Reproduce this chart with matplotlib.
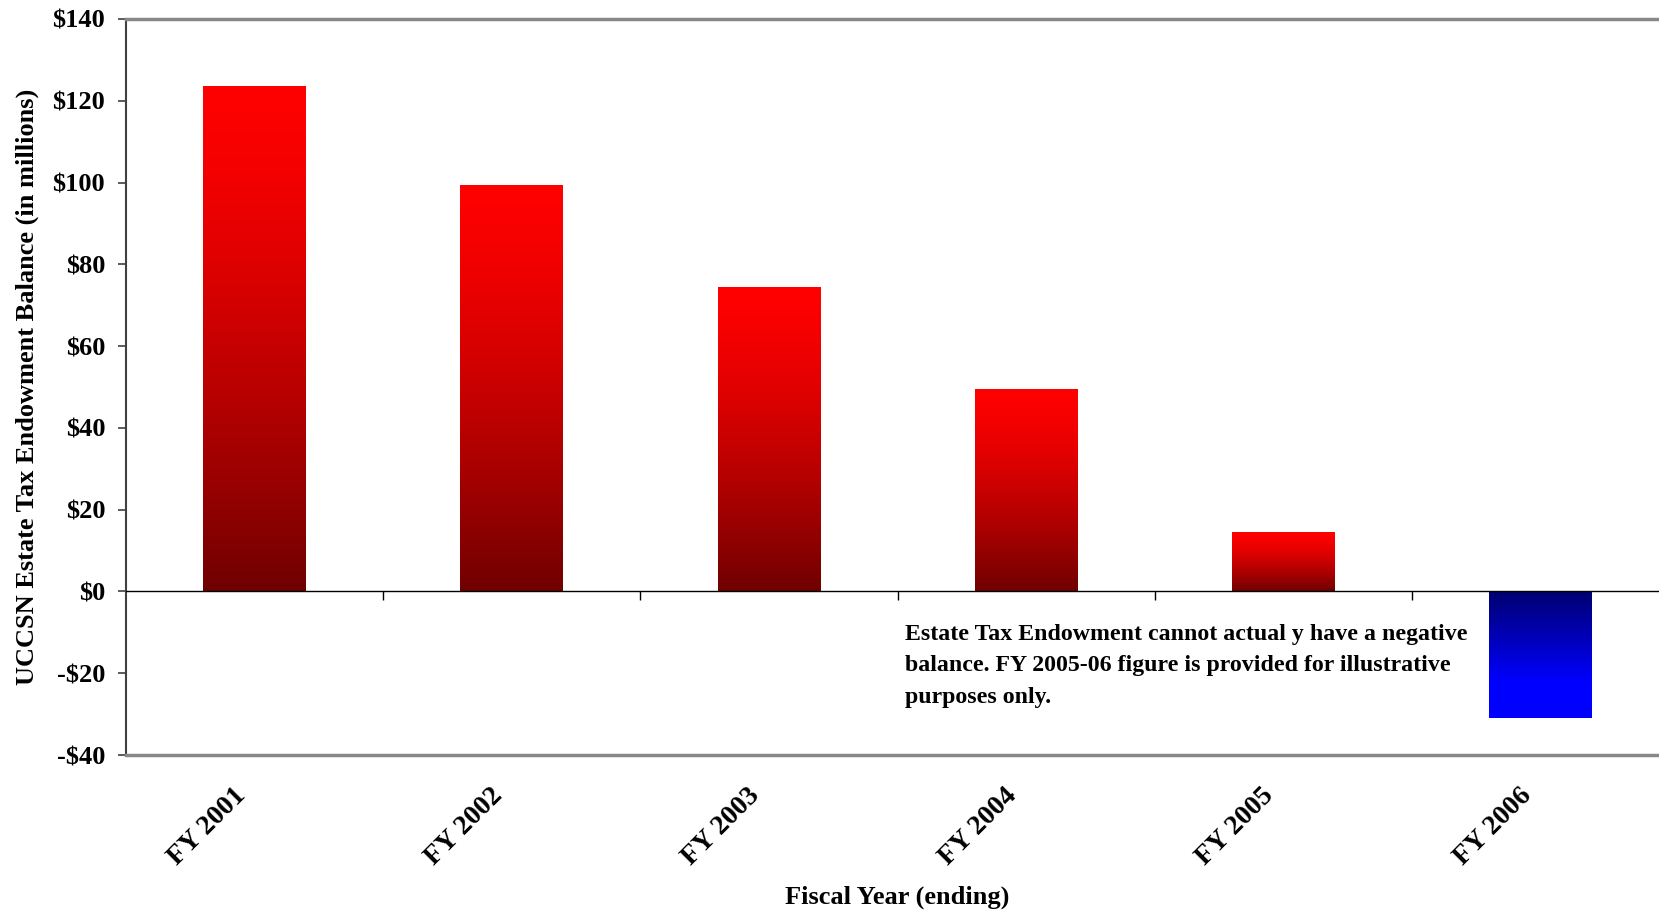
import numpy as np
import matplotlib.pyplot as plt
import matplotlib.transforms as mtransforms

# data
years = ['FY 2001', 'FY 2002', 'FY 2003', 'FY 2004', 'FY 2005', 'FY 2006']
balance = [123.5, 99.1, 74.2, 49.4, 14.2, -30.9]
yticks = [-40, -20, 0, 20, 40, 60, 80, 100, 120, 140]
note = ('Estate Tax Endowment cannot actual y have a negative\n'
        'balance. FY 2005-06 figure is provided for illustrative\n'
        'purposes only.')

plt.rcParams['font.family'] = ['Liberation Serif', 'DejaVu Serif']
plt.rcParams['font.weight'] = 'bold'

fig = plt.figure(figsize=(16.59, 9.13), dpi=100)
ax = fig.add_axes([126 / 1659, 1 - 755 / 913, 1 - 126 / 1659, (755 - 19) / 913])

x = np.arange(len(years))
bars = ax.bar(x, balance, width=0.40, color='none', edgecolor='none')


def red_grad(n=256):
    t = np.linspace(0, 1, n)  # 0 = top
    r = 1 - 0.56 * t ** 1.4
    return np.stack([r, np.zeros(n), np.zeros(n)], axis=1)[:, None, :]


def blue_grad(n=256):
    t = np.linspace(0, 1, n)  # 0 = top (zero line)
    b = 0.44 + 0.56 * np.clip(t / 0.72, 0, 1)
    return np.stack([np.zeros(n), np.zeros(n), b], axis=1)[:, None, :]


for b, v in zip(bars, balance):
    x0 = b.get_x()
    x1 = x0 + b.get_width()
    if v >= 0:
        img = red_grad()
        ext = (x0, x1, 0, v)
    else:
        img = blue_grad()
        ext = (x0, x1, v, 0)
    ax.imshow(img, extent=ext, origin='upper', aspect='auto',
              interpolation='bilinear', zorder=2)

ax.set_xlim(-0.5, 5.46)
ax.set_ylim(-40, 140)

# zero line with category dividers
ax.axhline(0, color='black', lw=1.0, zorder=3)
ax.vlines(np.arange(len(years) - 1) + 0.5, -2.0, 0, color='black', lw=1.0, zorder=3)

ax.set_yticks(yticks)
ax.set_yticklabels(['-$%d' % -v if v < 0 else '$%d' % v for v in yticks], fontsize=19)
ax.tick_params(axis='y', direction='out', length=6, width=1.2, color='#404040', pad=9)

ax.set_xticks(x)
ax.set_xticklabels(years, fontsize=20, rotation=45, ha='right', rotation_mode='anchor')
ax.tick_params(axis='x', length=0, pad=20)
shift = mtransforms.ScaledTranslation(-22 / 100, 0, fig.dpi_scale_trans)
for lbl in ax.get_xticklabels():
    lbl.set_transform(lbl.get_transform() + shift)

ax.spines['right'].set_visible(False)
ax.spines['left'].set_color('#404040')
ax.spines['left'].set_linewidth(1.5)
ax.spines['top'].set_color('#888888')
ax.spines['top'].set_linewidth(2.5)
ax.spines['bottom'].set_color('#888888')
ax.spines['bottom'].set_linewidth(2.5)

ax.set_ylabel('UCCSN Estate Tax Endowment Balance (in millions)', fontsize=19,
              fontweight='bold', labelpad=10)
fig.text(0.541, 1 - 897 / 913, 'Fiscal Year (ending)', fontsize=19,
         fontweight='bold', ha='center', va='center')

ax.text(2.53, -8.0, note, fontsize=17.2, fontweight='bold', va='top', ha='left',
        linespacing=1.64)

fig.savefig('out.png', dpi=100)
